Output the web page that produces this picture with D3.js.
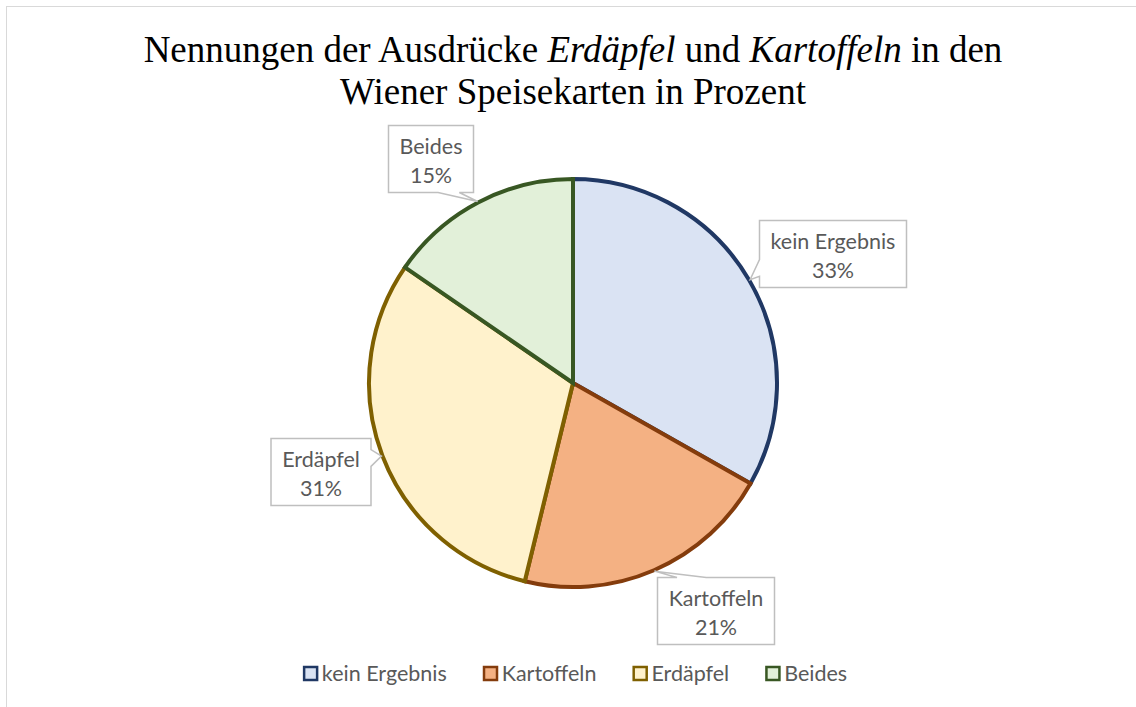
<!DOCTYPE html>
<html><head><meta charset="utf-8">
<script src="https://cdn.jsdelivr.net/npm/d3@7"></script>
<style>body{margin:0;background:#fff}svg{display:block}</style>
</head><body>
<script>
const categories = ["kein Ergebnis", "Kartoffeln", "Erdäpfel", "Beides"];
const values = [33.2, 20.6, 30.8, 15.4];
const fills = ["#DAE3F3", "#F4B183", "#FFF2CC", "#E2F0D9"];
const strokes = ["#203864", "#843C0C", "#7F6000", "#385723"];
const titleLine1 = [["Nennungen der Ausdrücke ", false], ["Erdäpfel", true], [" und ", false], ["Kartoffeln", true], [" in den", false]];
const titleLine2 = "Wiener Speisekarten in Prozent";
// label box centres relative to pie centre (layout)
const labelOffsets = [[260, -129], [143, 228], [-252, 89], [-142, -224]];

const W = 1136, H = 707;
const cx = 573, cy = 383, R = 204;
const svg = d3.select("body").append("svg").attr("width", W).attr("height", H);

svg.append("rect").attr("x", 6.5).attr("y", 6.5).attr("width", W + 20).attr("height", H + 20)
  .attr("fill", "#fff").attr("stroke", "#D9D9D9").attr("stroke-width", 1);

// title
const tf = "Liberation Serif, Times New Roman, serif";
const t1 = svg.append("text").attr("x", cx).attr("y", 62).attr("text-anchor", "middle")
  .attr("font-family", tf).attr("font-size", 37).attr("fill", "#000");
titleLine1.forEach(([s, it]) => t1.append("tspan").text(s).attr("font-style", it ? "italic" : "normal"));
svg.append("text").attr("x", cx).attr("y", 104).attr("text-anchor", "middle")
  .attr("font-family", tf).attr("font-size", 37).attr("fill", "#000").text(titleLine2);

const total = d3.sum(values);
const pie = d3.pie().sort(null).value(d => d)(values);
const arc = d3.arc().innerRadius(0).outerRadius(R);
const g = svg.append("g").attr("transform", `translate(${cx},${cy})`);
g.selectAll("path.slice").data(pie).join("path").attr("class", "slice")
  .attr("d", arc).attr("fill", (d, i) => fills[i]).attr("stroke", (d, i) => strokes[i])
  .attr("stroke-width", 4).attr("stroke-linejoin", "miter");

// labels with wedge callouts
const font = "Lato, Calibri, sans-serif", fs = 21.5;
pie.forEach((d, i) => {
  const mid = (d.startAngle + d.endAngle) / 2;
  const tip = [(R + 1) * Math.sin(mid), -(R + 1) * Math.cos(mid)];
  const lines = [categories[i], Math.round(values[i] / total * 100) + "%"];
  const lg = g.append("g");
  const txts = lines.map((s, k) => lg.append("text").text(s).attr("font-family", font).attr("font-size", fs)
    .attr("fill", "#595959").attr("text-anchor", "middle"));
  const tw = d3.max(txts, t => t.node().getComputedTextLength());
  const w = Math.round(tw + 22), h = 67;
  const [ox, oy] = labelOffsets[i];
  const l = ox - w / 2, t = oy - h / 2, r = l + w, b = t + h;
  const dxn = (tip[0] - ox) / w, dyn = (tip[1] - oy) / h;
  let p;
  if (Math.abs(dxn) > Math.abs(dyn)) {
    const y1 = dyn < 0 ? t + h * 2 / 12 : t + h * 7 / 12, y2 = dyn < 0 ? t + h * 5 / 12 : t + h * 10 / 12;
    if (dxn < 0) p = `M${l},${t}L${r},${t}L${r},${b}L${l},${b}L${l},${y2}L${tip[0]},${tip[1]}L${l},${y1}Z`;
    else p = `M${l},${t}L${r},${t}L${r},${y1}L${tip[0]},${tip[1]}L${r},${y2}L${r},${b}L${l},${b}Z`;
  } else {
    const x1 = dxn < 0 ? l + w * 2 / 12 : l + w * 7 / 12, x2 = dxn < 0 ? l + w * 5 / 12 : l + w * 10 / 12;
    if (dyn < 0) p = `M${l},${t}L${x1},${t}L${tip[0]},${tip[1]}L${x2},${t}L${r},${t}L${r},${b}L${l},${b}Z`;
    else p = `M${l},${t}L${r},${t}L${r},${b}L${x2},${b}L${tip[0]},${tip[1]}L${x1},${b}L${l},${b}Z`;
  }
  lg.insert("path", "text").attr("d", p).attr("fill", "#fff").attr("stroke", "#BFBFBF").attr("stroke-width", 1.5);
  txts.forEach((tx, k) => tx.attr("x", ox).attr("y", t + 28 + k * 29));
});

// legend
const leg = svg.append("g");
let x = 0;
categories.forEach((c, i) => {
  const it = leg.append("g").attr("transform", `translate(${x},0)`);
  it.append("rect").attr("x", 1.25).attr("y", -14).attr("width", 13).attr("height", 13)
    .attr("fill", fills[i]).attr("stroke", strokes[i]).attr("stroke-width", 2.5);
  const tx = it.append("text").attr("x", 19).attr("y", 0).text(c).attr("font-family", font)
    .attr("font-size", fs).attr("fill", "#595959");
  x += 19 + tx.node().getComputedTextLength() + 36;
});
const lw = x - 36;
leg.attr("transform", `translate(${575 - lw / 2},681)`);
</script>
</body></html>
